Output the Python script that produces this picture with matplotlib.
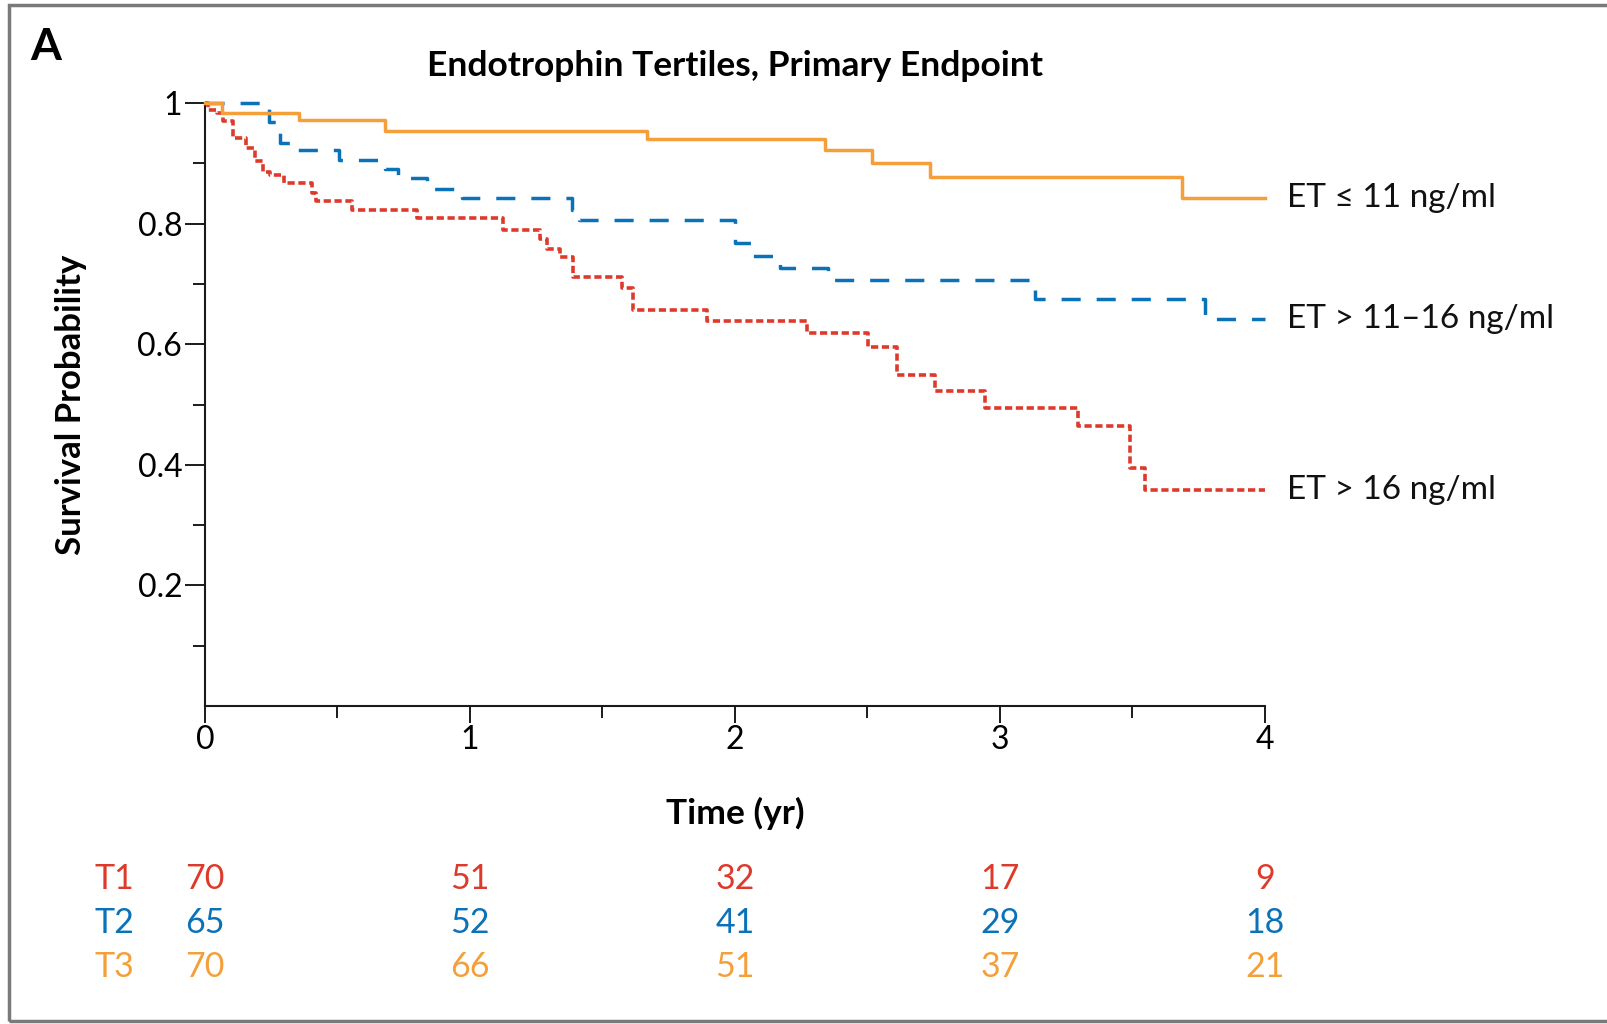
import matplotlib
matplotlib.use("Agg")
import matplotlib.pyplot as plt
from matplotlib.patches import Rectangle
from matplotlib.transforms import blended_transform_factory
from matplotlib.ticker import FixedLocator, FixedFormatter

plt.rcParams['font.family'] = ['Lato', 'DejaVu Sans']

# Kaplan-Meier step curves (time in years, survival probability)
t1_time = [0, 0.013, 0.044, 0.069, 0.107, 0.155, 0.19, 0.22, 0.245, 0.30, 0.403, 0.42,
           0.553, 0.799, 1.126, 1.264, 1.29, 1.34, 1.387, 1.572, 1.614, 1.893, 2.27,
           2.503, 2.61, 2.755, 2.943, 3.296, 3.49, 3.547, 4.0]
t1_surv = [1, 0.989, 0.983, 0.970, 0.942, 0.926, 0.903, 0.886, 0.880, 0.867, 0.850, 0.837,
           0.823, 0.809, 0.790, 0.775, 0.758, 0.744, 0.711, 0.693, 0.657, 0.639, 0.618,
           0.595, 0.549, 0.523, 0.494, 0.465, 0.394, 0.359, 0.359]

t2_time = [0, 0.243, 0.283, 0.32, 0.507, 0.68, 0.73, 0.839, 0.969, 1.384, 1.41, 2.0,
           2.06, 2.17, 2.35, 3.133, 3.774, 4.0]
t2_surv = [1, 0.968, 0.933, 0.922, 0.906, 0.890, 0.875, 0.857, 0.842, 0.822, 0.806, 0.767,
           0.747, 0.727, 0.707, 0.675, 0.642, 0.642]

t3_time = [0, 0.065, 0.355, 0.679, 1.667, 2.34, 2.516, 2.736, 3.686, 4.0]
t3_surv = [1, 0.983, 0.972, 0.954, 0.940, 0.922, 0.900, 0.878, 0.842, 0.842]

curve_labels = ["ET > 16 ng/ml", "ET > 11\u201316 ng/ml", "ET \u2264 11 ng/ml"]

# Numbers at risk
risk_times = [0, 1, 2, 3, 4]
risk_groups = ["T1", "T2", "T3"]
risk_t1 = [70, 51, 32, 17, 9]
risk_t2 = [65, 52, 41, 29, 18]
risk_t3 = [70, 66, 51, 37, 21]

x_ticks = [0, 1, 2, 3, 4]
y_major = [0.2, 0.4, 0.6, 0.8, 1.0]
y_major_labels = ["0.2", "0.4", "0.6", "0.8", "1"]
y_minor = [0.1, 0.3, 0.5, 0.7, 0.9]
x_minor = [0.5, 1.5, 2.5, 3.5]

RED = "#DE3A2B"
BLUE = "#0A72B8"
ORANGE = "#F59F3A"
INK = "#1a1a1a"

W, H = 1608, 1024
fig = plt.figure(figsize=(W / 100, H / 100), dpi=100)
ax = fig.add_axes([205 / W, 1 - 706 / H, 1060 / W, 603 / H])

ax.step(t1_time, t1_surv, where="post", color=RED, lw=2.6,
        dashes=(2.0, 1.0), clip_on=False, zorder=3)
ax.step(t2_time, t2_surv, where="post", color=BLUE, lw=2.5,
        dashes=(5.5, 4.6), clip_on=False, zorder=3)
ax.step(t3_time, t3_surv, where="post", color=ORANGE, lw=2.5,
        clip_on=False, zorder=4)

# curve labels at the right end of each curve
for surv, lab in zip([t1_surv, t2_surv, t3_surv], curve_labels):
    ax.annotate(lab, xy=(4, surv[-1]), xytext=(16, 0), textcoords="offset points",
                ha="left", va="center", fontsize=24, color="#111111",
                annotation_clip=False)

ax.set_xlim(0, 4)
ax.set_ylim(0, 1)
for side in ("top", "right"):
    ax.spines[side].set_visible(False)
for side in ("left", "bottom"):
    ax.spines[side].set_linewidth(1.5)
    ax.spines[side].set_color(INK)

ax.xaxis.set_major_locator(FixedLocator(x_ticks))
ax.xaxis.set_minor_locator(FixedLocator(x_minor))
ax.yaxis.set_major_locator(FixedLocator(y_major))
ax.yaxis.set_major_formatter(FixedFormatter(y_major_labels))
ax.yaxis.set_minor_locator(FixedLocator(y_minor))

ax.tick_params(axis="x", which="major", direction="out", length=12, width=1.4,
               labelsize=23, pad=2, color=INK)
ax.tick_params(axis="x", which="minor", direction="out", length=8.6, width=1.4,
               color=INK)
ax.tick_params(axis="y", which="major", direction="out", length=14.4, width=1.4,
               labelsize=23, pad=2, color=INK)
ax.tick_params(axis="y", which="minor", direction="out", length=8.6, width=1.4,
               color=INK)

ax.set_ylabel("Survival Probability", fontsize=25, fontweight="bold")
ax.yaxis.set_label_coords((71 - 205) / 1060, 0.5)
ax.yaxis.label.set_va("center")
ax.set_xlabel("Time (yr)", fontsize=25.5, fontweight="bold")
ax.xaxis.set_label_coords(0.5, (706 - 813) / 603)
ax.xaxis.label.set_va("center")

ax.text(0.5, (706 - 66) / 603, "Endotrophin Tertiles, Primary Endpoint",
        transform=ax.transAxes, ha="center", va="center",
        fontsize=25.5, fontweight="bold")

fig.text(46 / W, 1 - 47 / H, "A", ha="center", va="center",
         fontsize=32, fontweight="bold")

# numbers-at-risk table
trans = blended_transform_factory(ax.transData, fig.transFigure)
row_y = [1 - 879 / H, 1 - 923 / H, 1 - 967 / H]
for name, counts, color, y in zip(risk_groups, [risk_t1, risk_t2, risk_t3],
                                  [RED, BLUE, ORANGE], row_y):
    fig.text(95 / W, y, name, ha="left", va="center", fontsize=24.5, color=color)
    for xt, n in zip(risk_times, counts):
        ax.text(xt, y, str(n), transform=trans, ha="center", va="center",
                fontsize=24.5, color=color, clip_on=False)

# panel frame
fig.add_artist(Rectangle((9.5 / W, 3 / H), 2.0, (1019.5 - 3) / H,
                         transform=fig.transFigure, fill=False,
                         edgecolor="#7a7a7a", lw=2.5))

fig.savefig("out.png", dpi=100)
